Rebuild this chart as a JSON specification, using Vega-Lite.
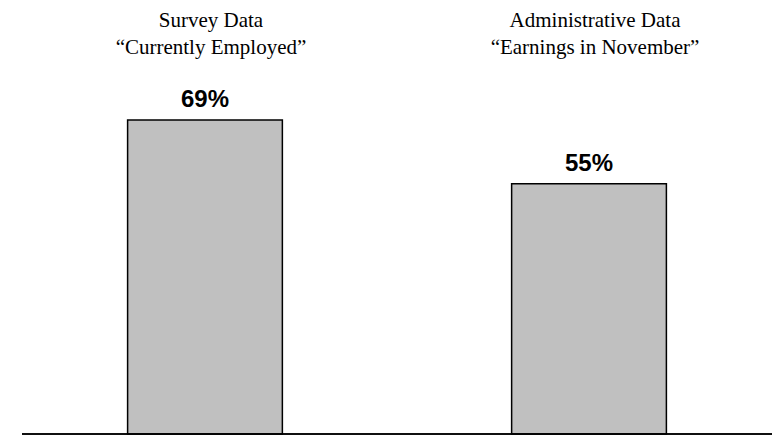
{
  "$schema": "https://vega.github.io/schema/vega-lite/v6.json",
  "width": 750,
  "height": 364,
  "autosize": {"type": "none"},
  "padding": {"left": 22, "top": 70, "right": 0, "bottom": 2},
  "background": "white",
  "config": {"view": {"stroke": null}},
  "data": {
    "values": [
      {"source": "Survey Data|“Currently Employed”", "pct": 69, "label": "69%"},
      {"source": "Administrative Data|“Earnings in November”", "pct": 55, "label": "55%"}
    ]
  },
  "encoding": {
    "x": {
      "field": "source",
      "type": "nominal",
      "sort": null,
      "scale": {"paddingInner": 0.597, "paddingOuter": 0.275},
      "axis": {
        "orient": "top",
        "title": null,
        "domain": false,
        "ticks": false,
        "labelAngle": 0,
        "labelExpr": "split(datum.label, '|')",
        "labelFont": "Liberation Serif",
        "labelFontSize": 21,
        "labelLineHeight": 27,
        "labelColor": "black",
        "labelPadding": 40,
        "labelLimit": 0,
        "labelOffset": 6
      }
    },
    "y": {
      "field": "pct",
      "type": "quantitative",
      "scale": {"domain": [0, 80]},
      "axis": null
    }
  },
  "layer": [
    {
      "mark": {"type": "bar", "fill": "#c0c0c0", "stroke": "black", "strokeWidth": 1.5}
    },
    {
      "mark": {"type": "text", "baseline": "alphabetic", "dy": -13, "font": "Liberation Sans", "fontWeight": "bold", "fontSize": 24, "color": "black"},
      "encoding": {"text": {"field": "label"}}
    },
    {
      "mark": {"type": "rule", "color": "black", "strokeWidth": 1.5},
      "encoding": {"x": null, "y": {"datum": 0}}
    }
  ]
}
